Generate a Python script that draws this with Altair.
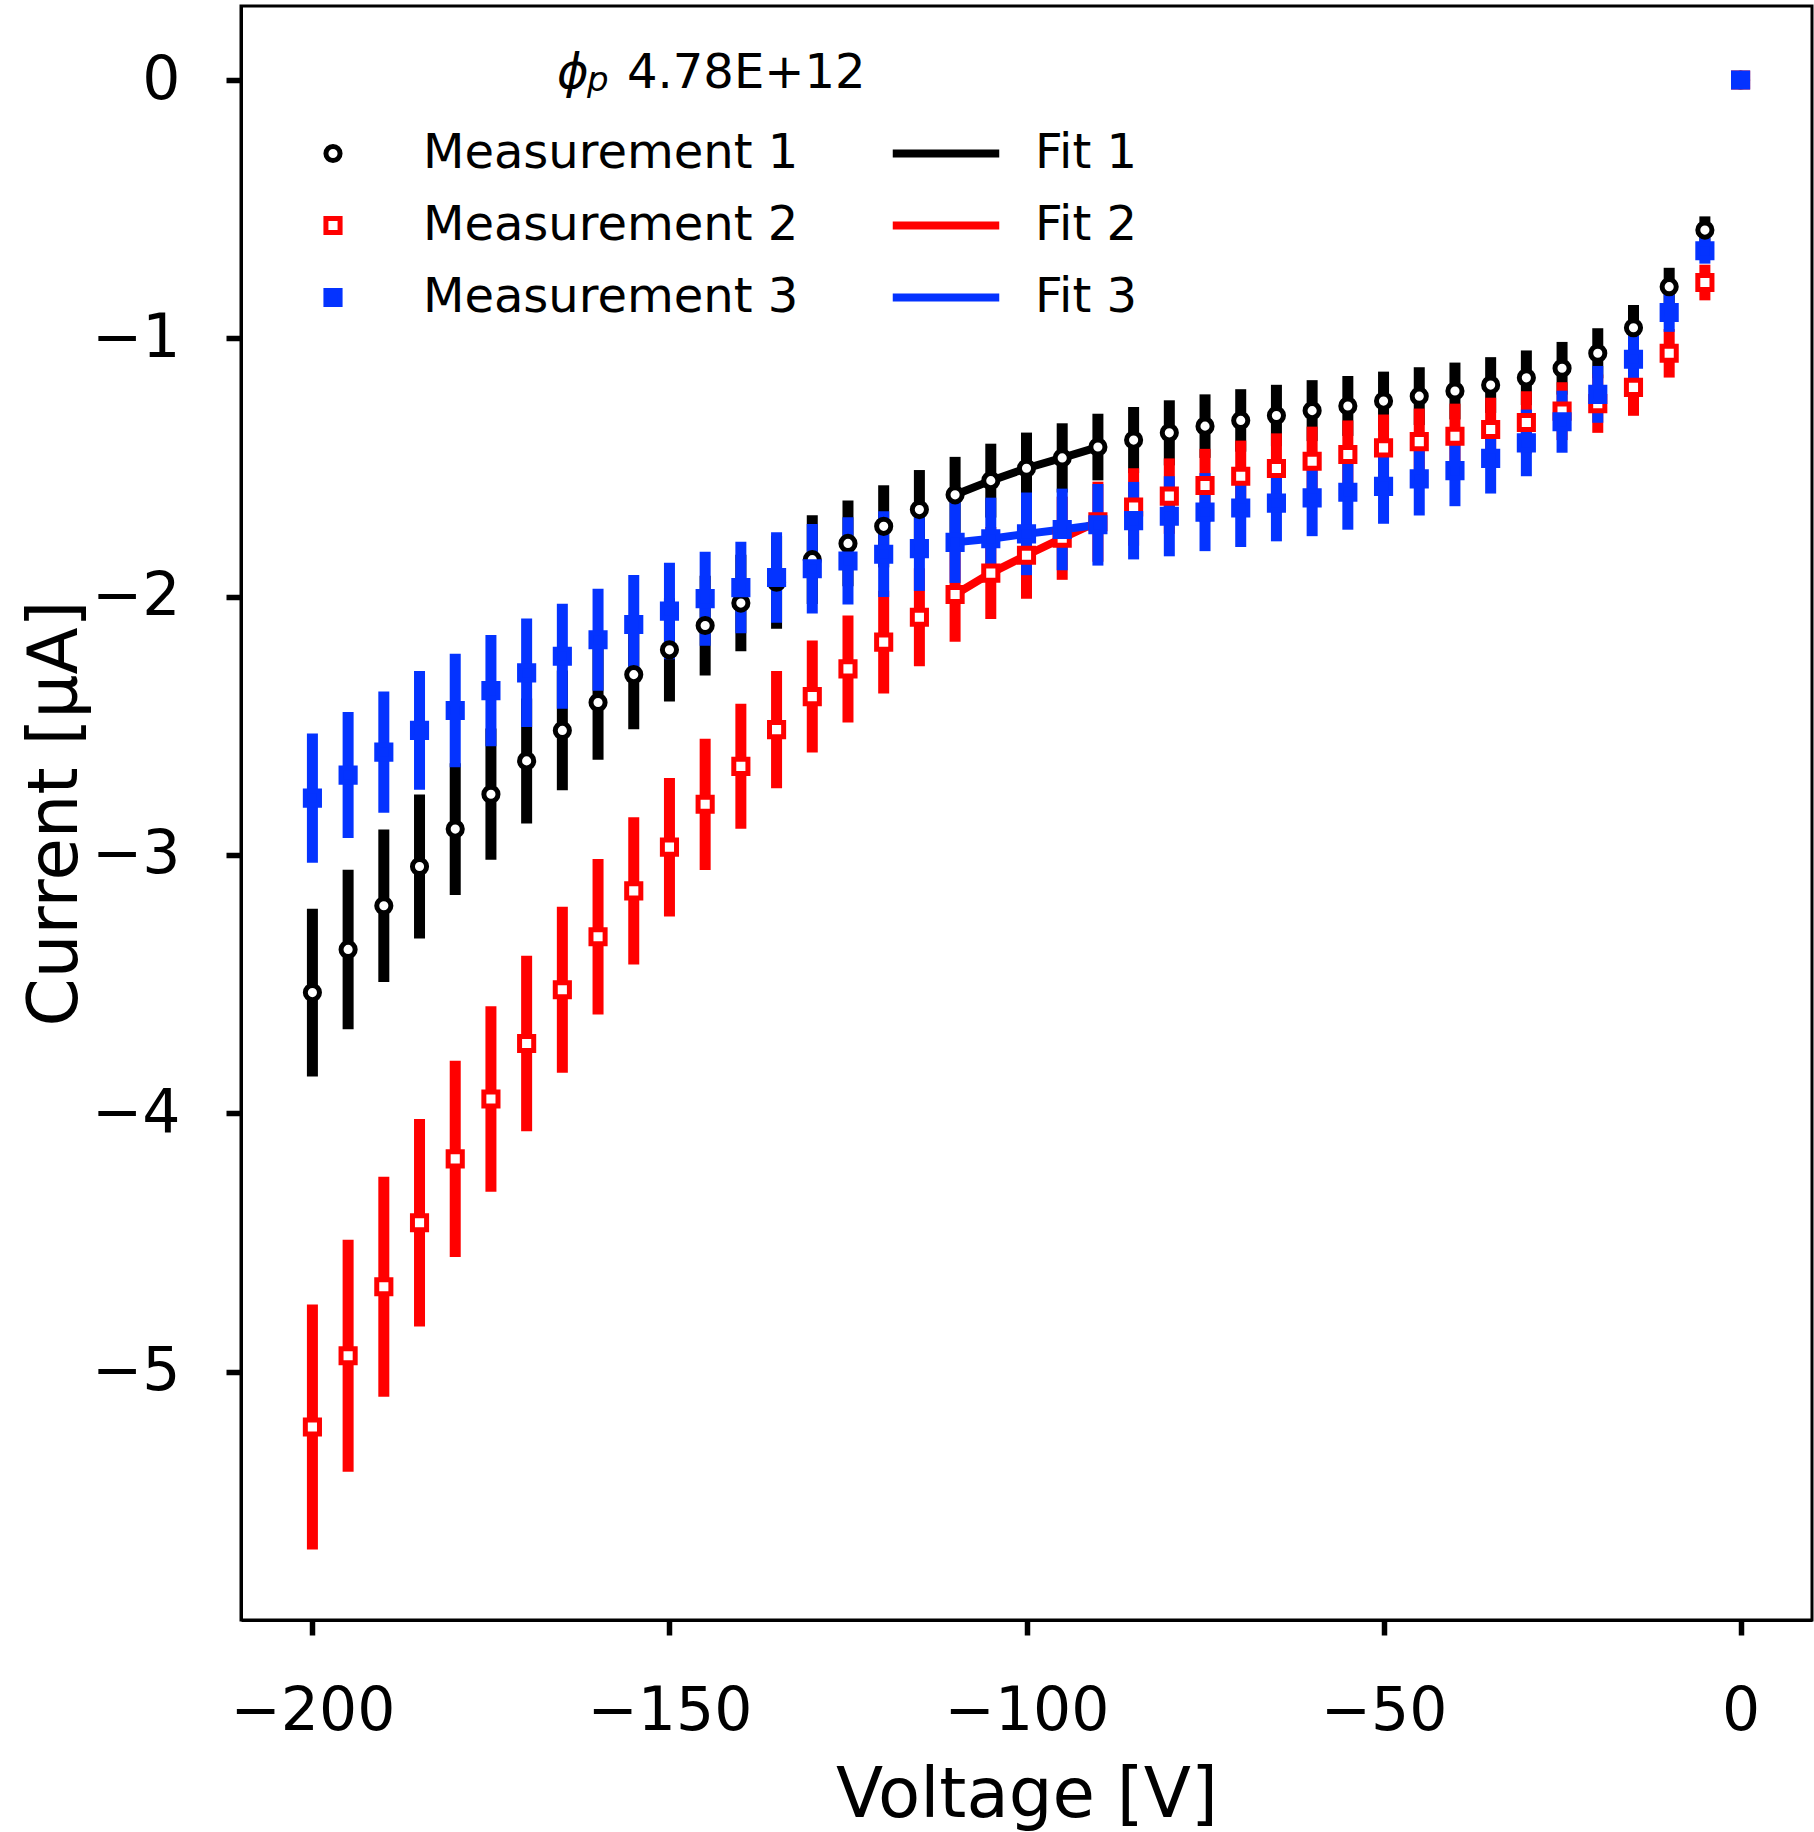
import altair as alt
import pandas as pd

# ---------------- data ----------------
voltage = [-200, -195, -190, -185, -180, -175, -170, -165, -160, -155,
           -150, -145, -140, -135, -130, -125, -120, -115, -110, -105,
           -100, -95, -90, -85, -80, -75, -70, -65, -60, -55,
           -50, -45, -40, -35, -30, -25, -20, -15, -10, -5, 0]

m1_current = [-3.533, -3.366, -3.197, -3.045, -2.90, -2.765, -2.636, -2.518, -2.41, -2.302,
              -2.206, -2.112, -2.025, -1.944, -1.857, -1.794, -1.728, -1.663, -1.606, -1.551,
              -1.503, -1.463, -1.421, -1.394, -1.366, -1.34, -1.318, -1.299, -1.28, -1.262,
              -1.243, -1.224, -1.204, -1.181, -1.153, -1.116, -1.058, -0.959, -0.80, -0.581, 0.0]
m1_error = [0.325, 0.309, 0.295, 0.279, 0.255, 0.254, 0.242, 0.232, 0.222, 0.212,
            0.200, 0.193, 0.187, 0.180, 0.172, 0.166, 0.159, 0.153, 0.147, 0.143,
            0.138, 0.134, 0.129, 0.128, 0.126, 0.123, 0.121, 0.119, 0.118, 0.116,
            0.114, 0.112, 0.110, 0.108, 0.106, 0.102, 0.097, 0.088, 0.073, 0.053, 0.0]

m2_current = [-5.215, -4.939, -4.672, -4.424, -4.177, -3.945, -3.73, -3.522, -3.317, -3.139,
              -2.97, -2.804, -2.657, -2.515, -2.387, -2.28, -2.176, -2.08, -1.992, -1.909,
              -1.84, -1.774, -1.71, -1.653, -1.611, -1.57, -1.534, -1.504, -1.476, -1.45,
              -1.424, -1.40, -1.379, -1.353, -1.326, -1.282, -1.253, -1.19, -1.058, -0.784, 0.0]
m2_error = [0.474, 0.449, 0.426, 0.402, 0.380, 0.359, 0.340, 0.321, 0.301, 0.285,
            0.268, 0.254, 0.242, 0.227, 0.217, 0.207, 0.199, 0.190, 0.183, 0.178,
            0.168, 0.161, 0.155, 0.150, 0.146, 0.142, 0.138, 0.136, 0.134, 0.132,
            0.129, 0.128, 0.126, 0.123, 0.121, 0.112, 0.113, 0.110, 0.094, 0.069, 0.0]

m3_current = [-2.78, -2.691, -2.602, -2.518, -2.441, -2.364, -2.295, -2.231, -2.167, -2.108,
              -2.056, -2.008, -1.965, -1.926, -1.892, -1.862, -1.836, -1.814, -1.79, -1.776,
              -1.757, -1.74, -1.722, -1.706, -1.689, -1.673, -1.657, -1.638, -1.618, -1.596,
              -1.573, -1.544, -1.512, -1.465, -1.405, -1.323, -1.217, -1.081, -0.90, -0.661, 0.0]
m3_error = [0.250, 0.244, 0.235, 0.230, 0.220, 0.215, 0.210, 0.203, 0.197, 0.192,
            0.187, 0.182, 0.177, 0.175, 0.173, 0.169, 0.166, 0.164, 0.157, 0.159,
            0.160, 0.158, 0.158, 0.150, 0.155, 0.151, 0.151, 0.148, 0.148, 0.145,
            0.145, 0.142, 0.138, 0.136, 0.129, 0.120, 0.110, 0.097, 0.075, 0.050, 0.0]

fit_voltage = [-110, -105, -100, -95, -90]
fit1_current = [-1.606, -1.551, -1.503, -1.463, -1.421]
fit2_current = [-1.992, -1.909, -1.84, -1.774, -1.71]
fit3_current = [-1.79, -1.776, -1.757, -1.74, -1.722]

series_names = ["Measurement 1", "Measurement 2", "Measurement 3"]
fit_names = ["Fit 1", "Fit 2", "Fit 3"]
series_colors = ["#000000", "#ff0000", "#0433ff"]
series_fills = ["#ffffff", "#ffffff", "#0433ff"]
series_shapes = ["circle", "square", "square"]

x_ticks = [-200, -150, -100, -50, 0]
y_ticks = [-5, -4, -3, -2, -1, 0]
legend_symbol = "\u03d5"
legend_sub = "p"
legend_value = "4.78E+12"

# ---------------- tables ----------------
rows = []
for name, cur, err in zip(series_names, [m1_current, m2_current, m3_current],
                          [m1_error, m2_error, m3_error]):
    for v, c, e in zip(voltage, cur, err):
        rows.append({"series": name, "V": v, "I": c, "lo": c - e, "hi": c + e})
df = pd.DataFrame(rows)

fit_rows = []
for name, cur in zip(fit_names, [fit1_current, fit2_current, fit3_current]):
    for v, c in zip(fit_voltage, cur):
        fit_rows.append({"fit": name, "V": v, "I": c})
fit_df = pd.DataFrame(fit_rows)

FONT = "DejaVu Sans"
minus_expr = "replace(datum.label, '-', '\u2212')"
LINE_W = 8
MARK_SW = 5
MARK_SIZE = 200

x_scale = alt.Scale(domain=[-210, 10], nice=False, zero=False)
y_scale = alt.Scale(domain=[-5.962, 0.2865], nice=False, zero=False)
x_axis = alt.Axis(values=x_ticks, format="d", title="Voltage [V]", labelExpr=minus_expr,
                  titleY=196, titleBaseline="alphabetic", labelPadding=47)
y_axis = alt.Axis(values=y_ticks, format="d", title="Current [\u00b5A]", labelExpr=minus_expr,
                  titleX=-165, titleY=807, titleAngle=270, titleBaseline="alphabetic",
                  titleAlign="center", labelPadding=46)

meas_legend = alt.Legend(title=None, orient="none", legendX=68, legendY=123.5,
                         direction="vertical", symbolSize=MARK_SIZE, symbolStrokeWidth=MARK_SW,
                         labelFont=FONT, labelFontSize=48, labelColor="black",
                         labelOffset=66, rowPadding=24, padding=0, labelLimit=0)
fit_legend = alt.Legend(title=None, orient="none", legendX=681, legendY=123.5,
                        direction="vertical", symbolType="M-3,0H3", symbolSize=1260,
                        symbolStrokeWidth=LINE_W, labelFont=FONT, labelFontSize=48,
                        labelColor="black", labelOffset=65, rowPadding=24, padding=0,
                        labelLimit=0)

X = alt.X("V:Q", scale=x_scale, axis=x_axis)

bar_layers = []
for name, col in zip(series_names, series_colors):
    bar_layers.append(
        alt.Chart(df).transform_filter(alt.datum.series == name)
        .mark_rule(strokeWidth=11, strokeCap="butt", color=col)
        .encode(x=X, y=alt.Y("lo:Q", scale=y_scale, axis=y_axis), y2="hi:Q")
    )

fits = alt.Chart(fit_df).mark_line(strokeWidth=LINE_W, strokeJoin="miter").encode(
    x=X,
    y=alt.Y("I:Q", scale=y_scale, axis=y_axis),
    stroke=alt.Stroke("fit:N", scale=alt.Scale(domain=fit_names, range=series_colors),
                      legend=fit_legend),
    strokeWidth=alt.value(LINE_W),
)

# markers: one layer per series so every style is set explicitly
marker_layers = []
for name, col, fil, shp in zip(series_names, series_colors, series_fills, series_shapes):
    marker_layers.append(
        alt.Chart(df).transform_filter(alt.datum.series == name)
        .mark_point(shape=shp, size=MARK_SIZE, strokeWidth=MARK_SW, stroke=col, fill=fil,
                    filled=True, opacity=1, fillOpacity=1, strokeOpacity=1)
        .encode(x=X, y=alt.Y("I:Q", scale=y_scale, axis=y_axis))
    )

# invisible layer carrying the measurement legend
legend_layer = alt.Chart(df).mark_point(filled=False, size=MARK_SIZE, opacity=0).encode(
    x=X,
    y=alt.Y("I:Q", scale=y_scale, axis=y_axis),
    color=alt.Color("series:N", scale=alt.Scale(domain=series_names, range=series_colors),
                    legend=meas_legend),
    fill=alt.Fill("series:N", scale=alt.Scale(domain=series_names, range=series_fills),
                  legend=meas_legend),
    shape=alt.Shape("series:N", scale=alt.Scale(domain=series_names, range=series_shapes),
                    legend=meas_legend),
)

phi_txt = alt.Chart(pd.DataFrame({"t": [legend_symbol]})).mark_text(
    font=FONT, fontSize=48, fontStyle="italic", align="left", baseline="alphabetic",
    color="black").encode(text="t:N", x=alt.value(316), y=alt.value(82))
sub_txt = alt.Chart(pd.DataFrame({"t": [legend_sub]})).mark_text(
    font=FONT, fontSize=34, fontStyle="italic", align="left", baseline="alphabetic",
    color="black").encode(text="t:N", x=alt.value(346), y=alt.value(85))
val_txt = alt.Chart(pd.DataFrame({"t": [legend_value]})).mark_text(
    font=FONT, fontSize=48, align="left", baseline="alphabetic",
    color="black").encode(text="t:N", x=alt.value(386), y=alt.value(82))

chart = alt.layer(*bar_layers, fits, legend_layer, *marker_layers,
                  phi_txt, sub_txt, val_txt).properties(
    width=1571, height=1614,
    padding={"left": 241, "top": 6, "right": 2, "bottom": 212},
    autosize=alt.AutoSizeParams(type="none"),
    background="white",
).configure_view(
    stroke="black", strokeWidth=3
).configure_axis(
    labelFont=FONT, labelFontSize=60, labelColor="black",
    tickColor="black", tickSize=15, tickWidth=5.5,
    domainColor="black", domainWidth=3, grid=False,
    titleFont=FONT, titleFontSize=69, titleFontWeight="normal", titleColor="black",
    labelFlush=False, labelOverlap=False,
).configure_legend(
    symbolOpacity=1
)

chart.save("out.html", embed_options={"renderer": "svg", "actions": False})
